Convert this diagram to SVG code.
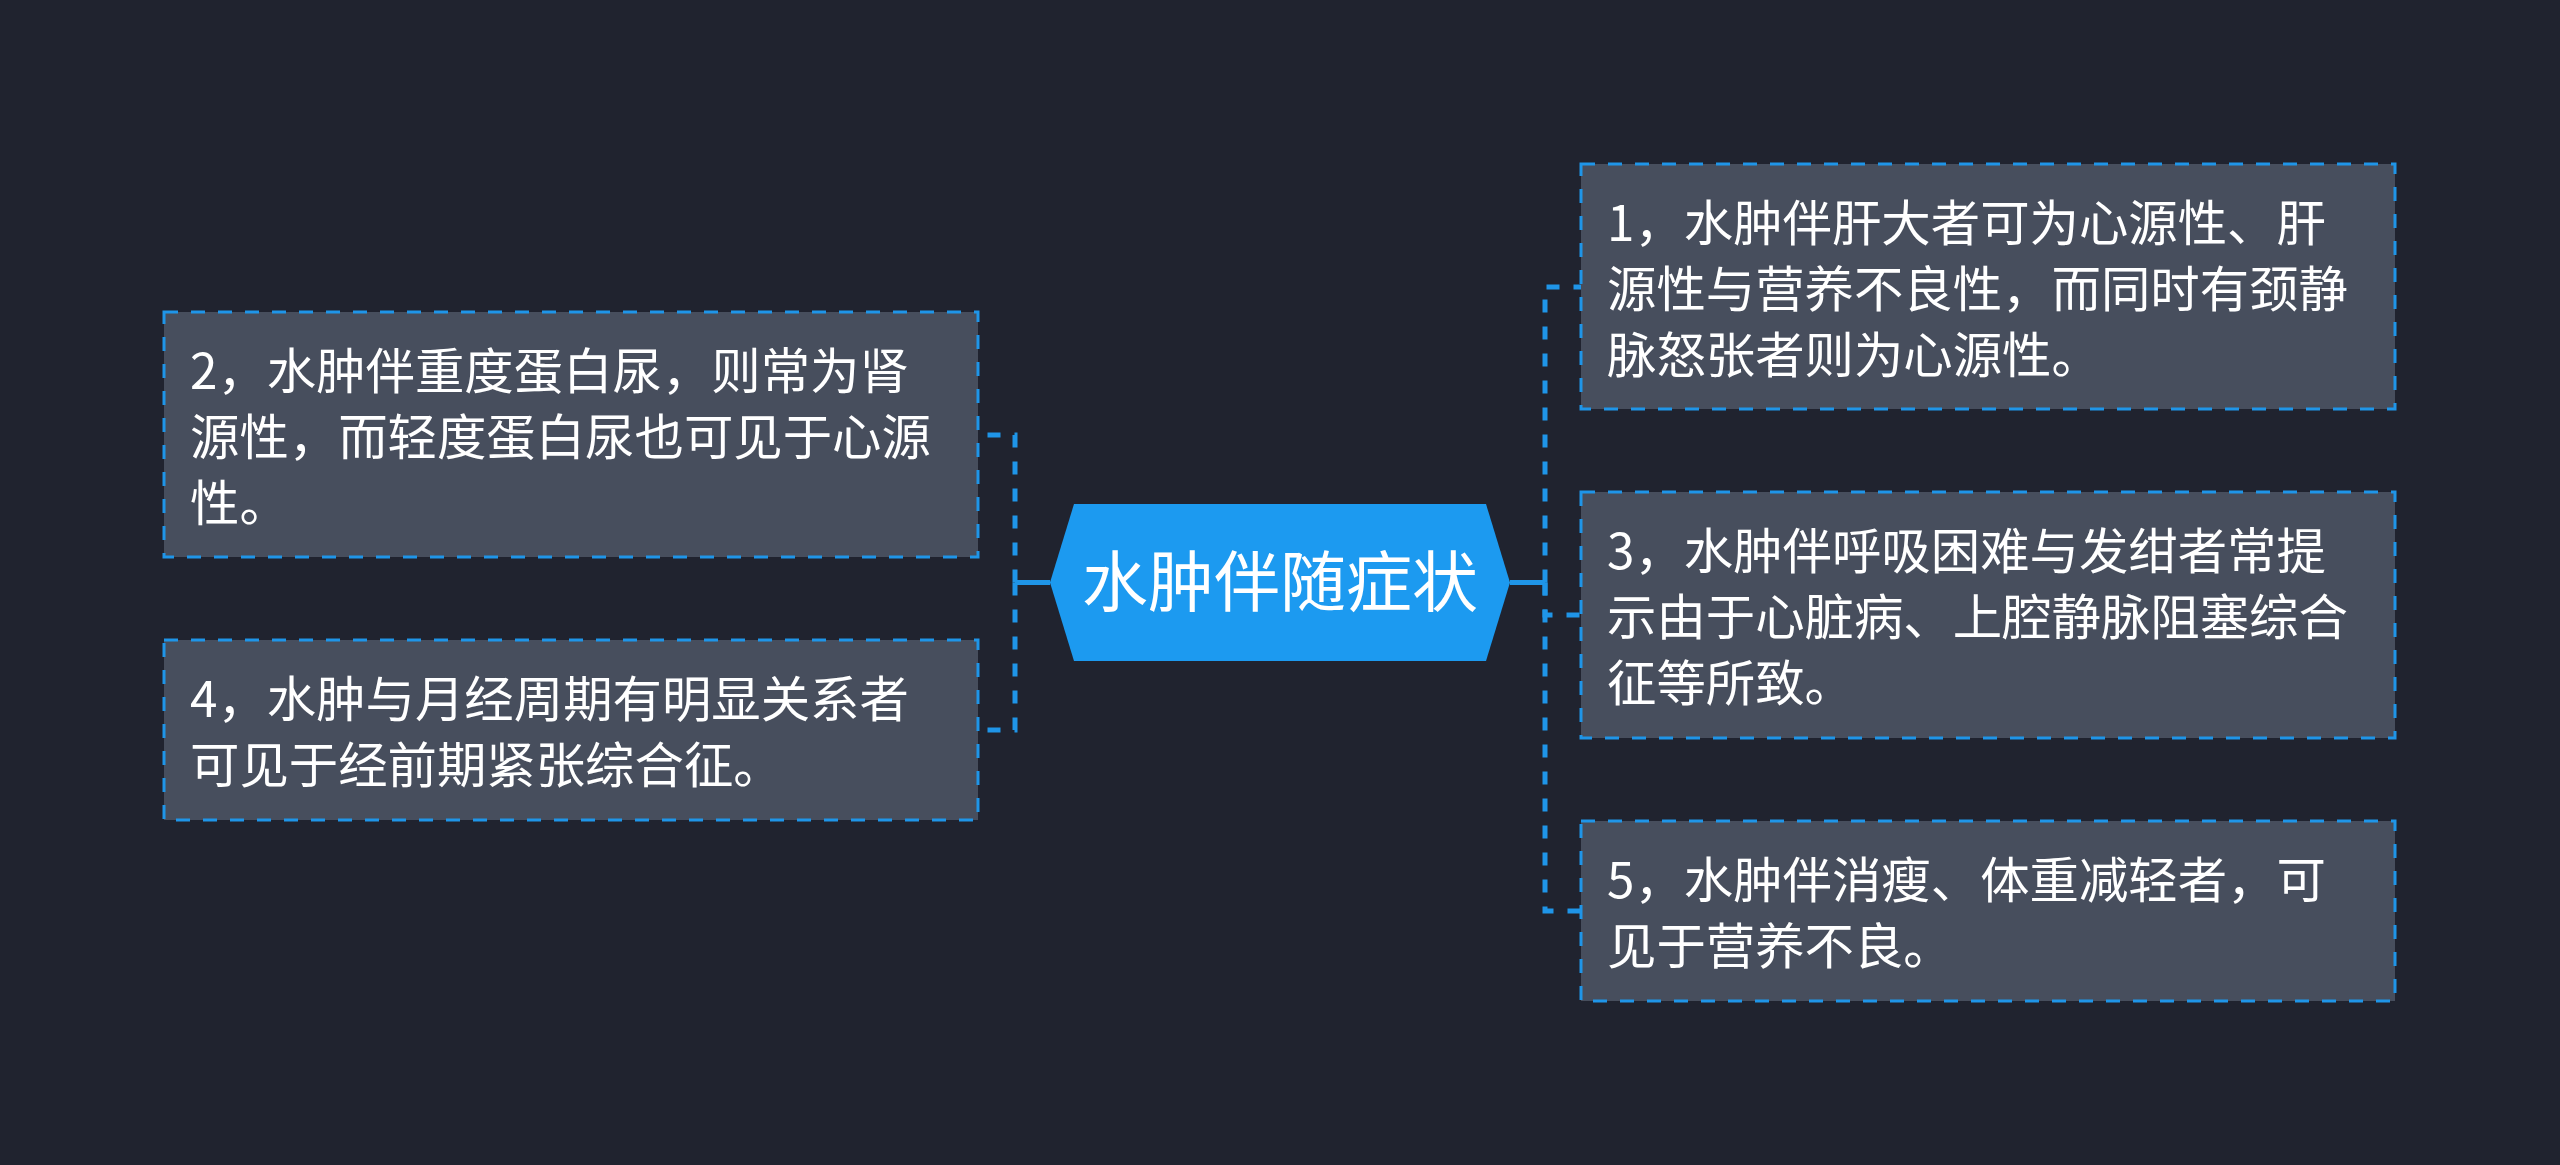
<svg xmlns="http://www.w3.org/2000/svg" width="2560" height="1165" viewBox="0 0 2560 1165">
<style>
.bg{fill:#20232f}
.box{fill:#474e5d;stroke:#1f95e8;stroke-width:3;stroke-dasharray:14 13}
.conn{fill:none;stroke:#1f95e8;stroke-width:5;stroke-dasharray:13 14}
.solid{fill:none;stroke:#1f95e8;stroke-width:5}
.t{font-family:"Noto Sans CJK SC","Noto Sans",sans-serif;font-size:49.4px;fill:#ffffff}
.ct{font-family:"Noto Sans CJK SC","Noto Sans",sans-serif;font-size:66px;fill:#ffffff}
</style>
<rect class="bg" x="0" y="0" width="2560" height="1165"/>
<g id="connectors">
<path class="solid" d="M1050 582.5H1015"/>
<path class="solid" d="M1510 582.5H1545"/>
<path class="conn" d="M1015 582.5V435H979"/>
<path class="conn" d="M1015 582.5V730H979"/>
<path class="conn" d="M1545 582.5V287H1581"/>
<path class="conn" d="M1545 582.5V615H1581"/>
<path class="conn" d="M1545 582.5V911H1581"/>
</g>
<g id="center">
<polygon points="1050,582.5 1074,504 1486,504 1510,582.5 1486,661 1074,661" fill="#1c9af0"/>
<text class="ct" x="1280" y="606" text-anchor="middle">水肿伴随症状</text>
</g>
<g id="n2">
<rect class="box" x="164" y="312" width="814" height="245"/>
<text class="t"><tspan x="190" y="389">2，水肿伴重度蛋白尿，则常为肾</tspan><tspan x="190" y="455">源性，而轻度蛋白尿也可见于心源</tspan><tspan x="190" y="521">性。</tspan></text>
</g>
<g id="n4">
<rect class="box" x="164" y="640" width="814" height="180"/>
<text class="t"><tspan x="190" y="717">4，水肿与月经周期有明显关系者</tspan><tspan x="190" y="783">可见于经前期紧张综合征。</tspan></text>
</g>
<g id="n1">
<rect class="box" x="1581" y="164" width="814" height="245"/>
<text class="t"><tspan x="1607" y="241">1，水肿伴肝大者可为心源性、肝</tspan><tspan x="1607" y="307">源性与营养不良性，而同时有颈静</tspan><tspan x="1607" y="373">脉怒张者则为心源性。</tspan></text>
</g>
<g id="n3">
<rect class="box" x="1581" y="492" width="814" height="246"/>
<text class="t"><tspan x="1607" y="569">3，水肿伴呼吸困难与发绀者常提</tspan><tspan x="1607" y="635">示由于心脏病、上腔静脉阻塞综合</tspan><tspan x="1607" y="701">征等所致。</tspan></text>
</g>
<g id="n5">
<rect class="box" x="1581" y="821" width="814" height="180"/>
<text class="t"><tspan x="1607" y="898">5，水肿伴消瘦、体重减轻者，可</tspan><tspan x="1607" y="964">见于营养不良。</tspan></text>
</g>
</svg>
